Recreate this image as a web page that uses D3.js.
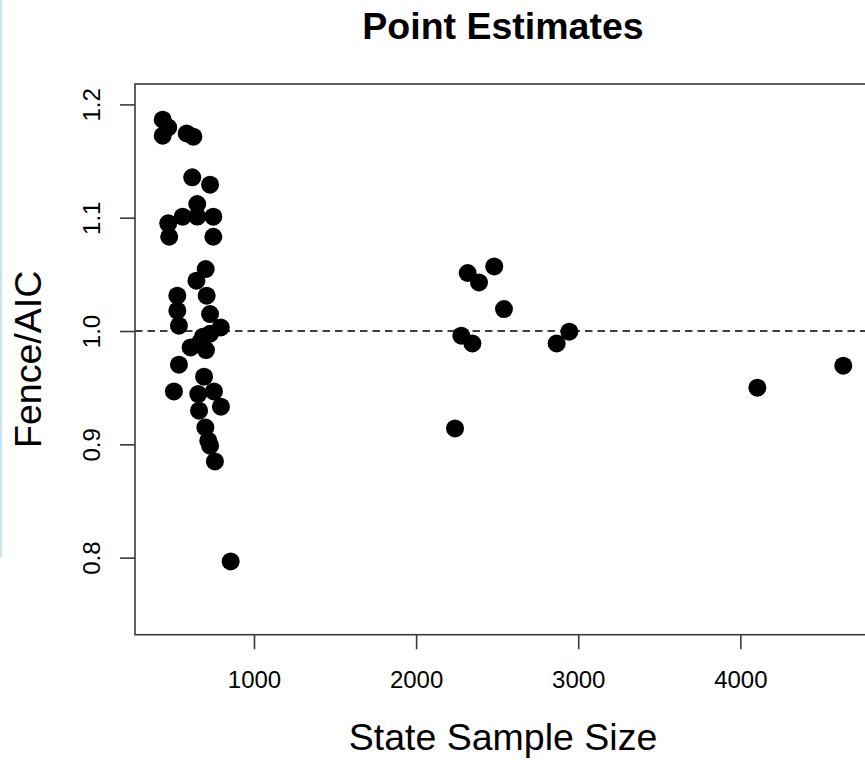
<!DOCTYPE html>
<html>
<head>
<meta charset="utf-8">
<script src="https://cdn.jsdelivr.net/npm/d3@7"></script>
<style>
  body { margin: 0; background: #fff; }
  text { font-family: "Liberation Sans", Arial, sans-serif; fill: #000; }
</style>
</head>
<body>
<div id="chart"></div>
<script>
// values
var sampleSize = [437, 471, 437, 585, 626, 619, 729, 650, 650, 560, 749, 471, 477, 749,
    702, 645, 527, 708, 527, 729, 537, 795, 685, 729, 609, 704, 667, 537, 692,
    506, 656, 753, 796, 661, 700, 718, 729, 759, 856,
    2318, 2388, 2482, 2542, 2279, 2347, 2867, 2945, 2240, 4105, 4635];
var ratio = [1.1865, 1.1797, 1.1724, 1.1744, 1.1715, 1.1356, 1.1291, 1.1121, 1.101, 1.1009, 1.1009, 1.095, 1.0832, 1.0832,
    1.0547, 1.0444, 1.0312, 1.0312, 1.0179, 1.015, 1.0047, 1.0032, 0.995, 0.9976, 0.9855, 0.9832, 0.9897, 0.9703, 0.9597,
    0.9467, 0.9444, 0.9467, 0.9332, 0.9297, 0.9149, 0.9032, 0.8988, 0.8849, 0.7967,
    1.0512, 1.0429, 1.057, 1.0194, 0.9959, 0.989, 0.989, 0.9994, 0.914, 0.950, 0.9694];
var xTicks = [1000, 2000, 3000, 4000];
var yTicks = [0.8, 0.9, 1.0, 1.1, 1.2];
var refLine = 1.0;

var W = 865, H = 760;
// plot box (right edge runs past the window, as in the picture)
var box = {left: 135, right: 871, top: 84, bottom: 634.7};

var svg = d3.select("#chart")
  .append("svg")
  .attr("width", W)
  .attr("height", H);

// light blue page rule at the far left
svg.append("line")
  .attr("x1", 1).attr("x2", 1)
  .attr("y1", 0).attr("y2", 557)
  .attr("stroke", "#c8e3ec")
  .attr("stroke-width", 2.2);

var x = d3.scaleLinear().domain([266, 4806]).range([box.left, box.right]);
var y = d3.scaleLinear().domain([0.732, 1.218]).range([box.bottom, box.top]);

// reference line
svg.append("line")
  .attr("x1", box.left).attr("x2", box.right)
  .attr("y1", y(refLine)).attr("y2", y(refLine))
  .attr("stroke", "#000")
  .attr("stroke-width", 1.6)
  .attr("stroke-dasharray", "7.5,5");

// points
svg.append("g")
  .selectAll("circle")
  .data(sampleSize.map(function(s, i) { return {s: s, r: ratio[i]}; }))
  .enter()
  .append("circle")
  .attr("cx", function(d) { return x(d.s); })
  .attr("cy", function(d) { return y(d.r); })
  .attr("r", 9)
  .attr("fill", "#000");

// box
svg.append("rect")
  .attr("x", box.left).attr("y", box.top)
  .attr("width", box.right - box.left)
  .attr("height", box.bottom - box.top)
  .attr("fill", "none")
  .attr("stroke", "#3a3a3a")
  .attr("stroke-width", 1.6);

// x axis
var gx = svg.append("g")
  .attr("transform", "translate(0," + box.bottom + ")")
  .call(d3.axisBottom(x).tickValues(xTicks).tickSize(14.5).tickSizeOuter(0).tickFormat(d3.format("d")));
gx.select(".domain").remove();
gx.selectAll(".tick line").attr("stroke", "#3a3a3a").attr("stroke-width", 1.6);
gx.selectAll(".tick text")
  .attr("y", 53.5).attr("dy", 0)
  .style("font-size", "24px")
  .style("font-family", "Liberation Sans, Arial, sans-serif");

// y axis
var gy = svg.append("g")
  .attr("transform", "translate(" + box.left + ",0)")
  .call(d3.axisLeft(y).tickValues(yTicks).tickSize(15).tickSizeOuter(0).tickFormat(d3.format(".1f")));
gy.select(".domain").remove();
gy.selectAll(".tick line").attr("stroke", "#3a3a3a").attr("stroke-width", 1.6);
gy.selectAll(".tick text")
  .attr("x", 0).attr("dy", 0)
  .attr("transform", "translate(-35,0) rotate(-90)")
  .attr("text-anchor", "middle")
  .style("font-size", "24px")
  .style("font-family", "Liberation Sans, Arial, sans-serif");

// title
svg.append("text")
  .attr("x", (box.left + box.right) / 2)
  .attr("y", 39)
  .attr("text-anchor", "middle")
  .style("font-size", "37.5px")
  .style("font-weight", "bold")
  .text("Point Estimates");

// x label
svg.append("text")
  .attr("x", (box.left + box.right) / 2)
  .attr("y", 750)
  .attr("text-anchor", "middle")
  .style("font-size", "37.5px")
  .text("State Sample Size");

// y label
svg.append("text")
  .attr("transform", "translate(40.5," + ((box.top + box.bottom) / 2) + ") rotate(-90)")
  .attr("text-anchor", "middle")
  .style("font-size", "37.5px")
  .text("Fence/AIC");
</script>
</body>
</html>
